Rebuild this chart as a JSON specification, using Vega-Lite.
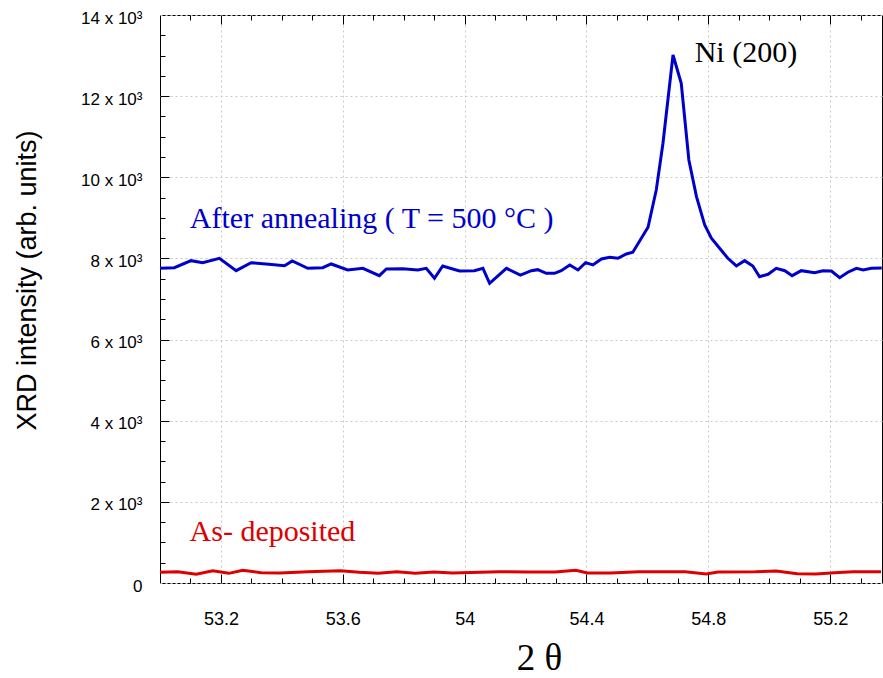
{
  "$schema": "https://vega.github.io/schema/vega-lite/v6.json",
  "width": 722,
  "height": 568,
  "autosize": "none",
  "padding": {"left": 160, "top": 15, "right": 1, "bottom": 95},
  "background": "white",
  "config": {"view": {"stroke": "black", "strokeWidth": 1}, "axis": {"domain": false}},
  "data": {"values": [
    {"sample": "After annealing", "theta2": 53.000, "intensity": 7757},
    {"sample": "After annealing", "theta2": 53.047, "intensity": 7772},
    {"sample": "After annealing", "theta2": 53.102, "intensity": 7945},
    {"sample": "After annealing", "theta2": 53.140, "intensity": 7895},
    {"sample": "After annealing", "theta2": 53.195, "intensity": 8004},
    {"sample": "After annealing", "theta2": 53.250, "intensity": 7698},
    {"sample": "After annealing", "theta2": 53.299, "intensity": 7895},
    {"sample": "After annealing", "theta2": 53.348, "intensity": 7863},
    {"sample": "After annealing", "theta2": 53.409, "intensity": 7821},
    {"sample": "After annealing", "theta2": 53.434, "intensity": 7937},
    {"sample": "After annealing", "theta2": 53.485, "intensity": 7757},
    {"sample": "After annealing", "theta2": 53.534, "intensity": 7772},
    {"sample": "After annealing", "theta2": 53.562, "intensity": 7863},
    {"sample": "After annealing", "theta2": 53.616, "intensity": 7715},
    {"sample": "After annealing", "theta2": 53.666, "intensity": 7757},
    {"sample": "After annealing", "theta2": 53.720, "intensity": 7575},
    {"sample": "After annealing", "theta2": 53.743, "intensity": 7740},
    {"sample": "After annealing", "theta2": 53.797, "intensity": 7748},
    {"sample": "After annealing", "theta2": 53.846, "intensity": 7715},
    {"sample": "After annealing", "theta2": 53.874, "intensity": 7757},
    {"sample": "After annealing", "theta2": 53.901, "intensity": 7511},
    {"sample": "After annealing", "theta2": 53.928, "intensity": 7814},
    {"sample": "After annealing", "theta2": 53.983, "intensity": 7691},
    {"sample": "After annealing", "theta2": 54.032, "intensity": 7698},
    {"sample": "After annealing", "theta2": 54.060, "intensity": 7757},
    {"sample": "After annealing", "theta2": 54.082, "intensity": 7388},
    {"sample": "After annealing", "theta2": 54.137, "intensity": 7757},
    {"sample": "After annealing", "theta2": 54.183, "intensity": 7590},
    {"sample": "After annealing", "theta2": 54.219, "intensity": 7698},
    {"sample": "After annealing", "theta2": 54.240, "intensity": 7723},
    {"sample": "After annealing", "theta2": 54.268, "intensity": 7634},
    {"sample": "After annealing", "theta2": 54.295, "intensity": 7634},
    {"sample": "After annealing", "theta2": 54.317, "intensity": 7698},
    {"sample": "After annealing", "theta2": 54.345, "intensity": 7839},
    {"sample": "After annealing", "theta2": 54.372, "intensity": 7715},
    {"sample": "After annealing", "theta2": 54.397, "intensity": 7895},
    {"sample": "After annealing", "theta2": 54.421, "intensity": 7839},
    {"sample": "After annealing", "theta2": 54.449, "intensity": 7987},
    {"sample": "After annealing", "theta2": 54.476, "intensity": 8029},
    {"sample": "After annealing", "theta2": 54.503, "intensity": 8004},
    {"sample": "After annealing", "theta2": 54.531, "intensity": 8110},
    {"sample": "After annealing", "theta2": 54.552, "intensity": 8152},
    {"sample": "After annealing", "theta2": 54.602, "intensity": 8768},
    {"sample": "After annealing", "theta2": 54.629, "intensity": 9687},
    {"sample": "After annealing", "theta2": 54.651, "intensity": 10839},
    {"sample": "After annealing", "theta2": 54.684, "intensity": 13015},
    {"sample": "After annealing", "theta2": 54.711, "intensity": 12318},
    {"sample": "After annealing", "theta2": 54.736, "intensity": 10427},
    {"sample": "After annealing", "theta2": 54.761, "intensity": 9522},
    {"sample": "After annealing", "theta2": 54.788, "intensity": 8825},
    {"sample": "After annealing", "theta2": 54.810, "intensity": 8497},
    {"sample": "After annealing", "theta2": 54.837, "intensity": 8250},
    {"sample": "After annealing", "theta2": 54.864, "intensity": 8004},
    {"sample": "After annealing", "theta2": 54.892, "intensity": 7814},
    {"sample": "After annealing", "theta2": 54.919, "intensity": 7945},
    {"sample": "After annealing", "theta2": 54.946, "intensity": 7814},
    {"sample": "After annealing", "theta2": 54.968, "intensity": 7550},
    {"sample": "After annealing", "theta2": 54.996, "intensity": 7609},
    {"sample": "After annealing", "theta2": 55.023, "intensity": 7757},
    {"sample": "After annealing", "theta2": 55.051, "intensity": 7698},
    {"sample": "After annealing", "theta2": 55.075, "intensity": 7575},
    {"sample": "After annealing", "theta2": 55.105, "intensity": 7698},
    {"sample": "After annealing", "theta2": 55.149, "intensity": 7649},
    {"sample": "After annealing", "theta2": 55.176, "intensity": 7698},
    {"sample": "After annealing", "theta2": 55.204, "intensity": 7691},
    {"sample": "After annealing", "theta2": 55.231, "intensity": 7526},
    {"sample": "After annealing", "theta2": 55.258, "intensity": 7659},
    {"sample": "After annealing", "theta2": 55.286, "intensity": 7757},
    {"sample": "After annealing", "theta2": 55.308, "intensity": 7715},
    {"sample": "After annealing", "theta2": 55.335, "intensity": 7757},
    {"sample": "After annealing", "theta2": 55.369, "intensity": 7765},
    {"sample": "As-deposited", "theta2": 53.000, "intensity": 263},
    {"sample": "As-deposited", "theta2": 53.058, "intensity": 279},
    {"sample": "As-deposited", "theta2": 53.119, "intensity": 214},
    {"sample": "As-deposited", "theta2": 53.173, "intensity": 304},
    {"sample": "As-deposited", "theta2": 53.226, "intensity": 238},
    {"sample": "As-deposited", "theta2": 53.272, "intensity": 313},
    {"sample": "As-deposited", "theta2": 53.333, "intensity": 254},
    {"sample": "As-deposited", "theta2": 53.394, "intensity": 247},
    {"sample": "As-deposited", "theta2": 53.486, "intensity": 279},
    {"sample": "As-deposited", "theta2": 53.593, "intensity": 304},
    {"sample": "As-deposited", "theta2": 53.654, "intensity": 263},
    {"sample": "As-deposited", "theta2": 53.716, "intensity": 238},
    {"sample": "As-deposited", "theta2": 53.777, "intensity": 279},
    {"sample": "As-deposited", "theta2": 53.838, "intensity": 238},
    {"sample": "As-deposited", "theta2": 53.899, "intensity": 271},
    {"sample": "As-deposited", "theta2": 53.960, "intensity": 247},
    {"sample": "As-deposited", "theta2": 54.052, "intensity": 263},
    {"sample": "As-deposited", "theta2": 54.113, "intensity": 279},
    {"sample": "As-deposited", "theta2": 54.205, "intensity": 271},
    {"sample": "As-deposited", "theta2": 54.297, "intensity": 271},
    {"sample": "As-deposited", "theta2": 54.365, "intensity": 313},
    {"sample": "As-deposited", "theta2": 54.403, "intensity": 247},
    {"sample": "As-deposited", "theta2": 54.480, "intensity": 247},
    {"sample": "As-deposited", "theta2": 54.572, "intensity": 279},
    {"sample": "As-deposited", "theta2": 54.648, "intensity": 279},
    {"sample": "As-deposited", "theta2": 54.724, "intensity": 279},
    {"sample": "As-deposited", "theta2": 54.793, "intensity": 222},
    {"sample": "As-deposited", "theta2": 54.832, "intensity": 271},
    {"sample": "As-deposited", "theta2": 54.954, "intensity": 279},
    {"sample": "As-deposited", "theta2": 55.023, "intensity": 296},
    {"sample": "As-deposited", "theta2": 55.092, "intensity": 230},
    {"sample": "As-deposited", "theta2": 55.153, "intensity": 222},
    {"sample": "As-deposited", "theta2": 55.214, "intensity": 254},
    {"sample": "As-deposited", "theta2": 55.275, "intensity": 279},
    {"sample": "As-deposited", "theta2": 55.367, "intensity": 279}
  ]},
  "layer": [
    {
      "mark": {"type": "line", "strokeWidth": 3, "clip": true},
      "encoding": {
        "x": {"field": "theta2", "type": "quantitative",
          "scale": {"domain": [53, 55.37], "nice": false, "zero": false},
          "axis": {"orient": "bottom", "values": [53.2, 53.6, 54, 54.4, 54.8, 55.2], "format": "~g",
            "ticks": false, "domain": false, "grid": true, "gridColor": "#c8c8c8", "gridDash": [2, 3], "gridWidth": 1,
            "labelFont": "Liberation Sans", "labelFontSize": 18, "labelColor": "black", "labelPadding": 27,
            "title": "2 θ", "titleFont": "Liberation Serif", "titleFontSize": 37, "titleFontWeight": "normal", "titleColor": "black",
            "titleX": 379, "titleY": 86, "titleAlign": "center", "titleBaseline": "alphabetic"}},
        "y": {"field": "intensity", "type": "quantitative",
          "scale": {"domain": [0, 14000], "nice": false},
          "axis": {"orient": "left", "values": [0, 2000, 4000, 6000, 8000, 10000, 12000, 14000],
            "labelExpr": "datum.value == 0 ? '0' : (datum.value / 1000) + ' x 10³'",
            "ticks": false, "domain": false, "grid": true, "gridColor": "#c8c8c8", "gridDash": [2, 3], "gridWidth": 1,
            "labelFont": "Liberation Sans", "labelFontSize": 17, "labelColor": "black", "labelPadding": 18, "labelOffset": 3,
            "title": "XRD intensity (arb. units)", "titleFont": "Liberation Sans", "titleFontSize": 27, "titleFontWeight": "normal", "titleColor": "black",
            "titleX": -133, "titleY": 265, "titleAngle": -90, "titleAlign": "center", "titleBaseline": "middle"}},
        "color": {"field": "sample", "type": "nominal",
          "scale": {"domain": ["After annealing", "As-deposited"], "range": ["#0000cc", "#dd0000"]}, "legend": null}
      }
    },
    {
      "mark": {"type": "point", "opacity": 0},
      "encoding": {
        "x": {"field": "theta2", "type": "quantitative", "scale": {"domain": [53, 55.37], "nice": false, "zero": false},
          "axis": {"orient": "bottom", "offset": -5, "tickSize": 5, "tickColor": "black", "labels": false, "grid": false, "domain": false, "title": null,
            "values": [53.1, 53.3, 53.4, 53.5, 53.7, 53.8, 53.9, 54.1, 54.2, 54.3, 54.5, 54.6, 54.7, 54.9, 55.0, 55.1, 55.3]}},
        "y": {"field": "intensity", "type": "quantitative", "scale": {"domain": [0, 14000], "nice": false},
          "axis": {"orient": "left", "offset": -5, "tickSize": 5, "tickColor": "black", "labels": false, "grid": false, "domain": false, "title": null,
            "values": [500, 1000, 1500, 2500, 3000, 3500, 4500, 5000, 5500, 6500, 7000, 7500, 8500, 9000, 9500, 10500, 11000, 11500, 12500, 13000, 13500]}}
      }
    },
    {
      "mark": {"type": "point", "opacity": 0},
      "encoding": {
        "x": {"field": "theta2", "type": "quantitative", "scale": {"domain": [53, 55.37], "nice": false, "zero": false},
          "axis": {"orient": "bottom", "offset": -9, "tickSize": 9, "tickColor": "black", "labels": false, "grid": false, "domain": false, "title": null,
            "values": [53.2, 53.6, 54, 54.4, 54.8, 55.2]}},
        "y": {"field": "intensity", "type": "quantitative", "scale": {"domain": [0, 14000], "nice": false},
          "axis": {"orient": "left", "offset": -9, "tickSize": 9, "tickColor": "black", "labels": false, "grid": false, "domain": false, "title": null,
            "values": [2000, 4000, 6000, 8000, 10000, 12000]}}
      }
    },
    {
      "mark": {"type": "point", "opacity": 0},
      "encoding": {
        "x": {"field": "theta2", "type": "quantitative", "scale": {"domain": [53, 55.37], "nice": false, "zero": false},
          "axis": {"orient": "top", "offset": -9, "tickSize": 9, "tickColor": "black", "labels": false, "grid": false, "domain": false, "title": null,
            "values": [53.2, 53.6, 54, 54.4, 54.8, 55.2]}}
      }
    },
    {
      "mark": {"type": "point", "opacity": 0},
      "encoding": {
        "x": {"field": "theta2", "type": "quantitative", "scale": {"domain": [53, 55.37], "nice": false, "zero": false},
          "axis": {"orient": "top", "offset": -5, "tickSize": 5, "tickColor": "black", "labels": false, "grid": false, "domain": false, "title": null,
            "values": [53.1, 53.3, 53.4, 53.5, 53.7, 53.8, 53.9, 54.1, 54.2, 54.3, 54.5, 54.6, 54.7, 54.9, 55.0, 55.1, 55.3]}}
      }
    },
    {
      "data": {"values": [{"label": "After annealing ( T = 500 °C )"}]},
      "mark": {"type": "text", "font": "Liberation Serif", "fontSize": 30, "color": "#0000cc", "align": "left", "baseline": "alphabetic"},
      "encoding": {
        "x": {"datum": 53.098, "type": "quantitative", "scale": {"domain": [53, 55.37], "nice": false, "zero": false}, "axis": null},
        "y": {"datum": 8751, "type": "quantitative", "scale": {"domain": [0, 14000], "nice": false}, "axis": null},
        "text": {"field": "label"}
      }
    },
    {
      "data": {"values": [{"label": "As- deposited"}]},
      "mark": {"type": "text", "font": "Liberation Serif", "fontSize": 30, "color": "#dd0000", "align": "left", "baseline": "alphabetic"},
      "encoding": {
        "x": {"datum": 53.097, "type": "quantitative", "scale": {"domain": [53, 55.37], "nice": false, "zero": false}, "axis": null},
        "y": {"datum": 1035, "type": "quantitative", "scale": {"domain": [0, 14000], "nice": false}, "axis": null},
        "text": {"field": "label"}
      }
    },
    {
      "data": {"values": [{"label": "Ni (200)"}]},
      "mark": {"type": "text", "font": "Liberation Serif", "fontSize": 30, "color": "black", "align": "left", "baseline": "alphabetic"},
      "encoding": {
        "x": {"datum": 54.755, "type": "quantitative", "scale": {"domain": [53, 55.37], "nice": false, "zero": false}, "axis": null},
        "y": {"datum": 12850, "type": "quantitative", "scale": {"domain": [0, 14000], "nice": false}, "axis": null},
        "text": {"field": "label"}
      }
    }
  ],
  "resolve": {"axis": {"x": "independent", "y": "independent"}}
}
